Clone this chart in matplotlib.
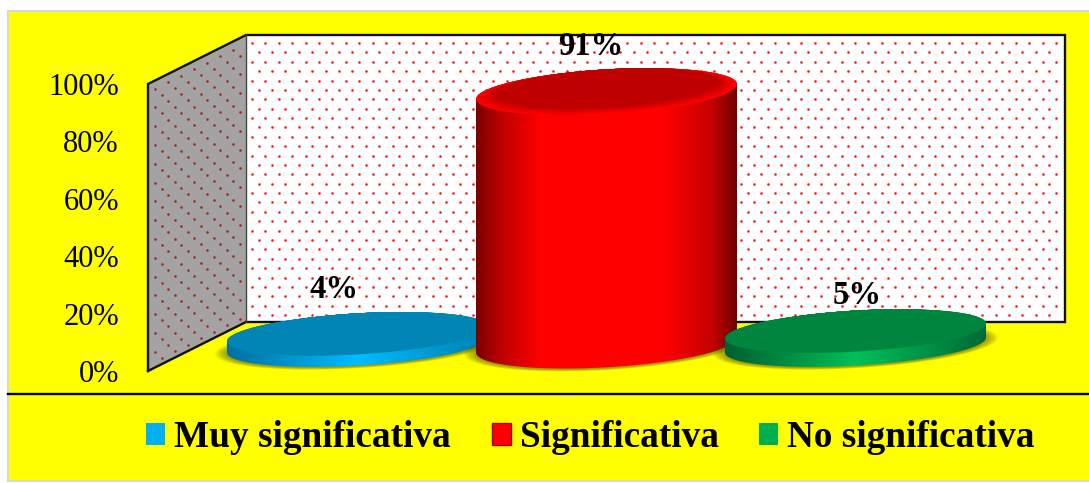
import numpy as np
import matplotlib
matplotlib.use('Agg')
import matplotlib.pyplot as plt
from matplotlib.colors import LinearSegmentedColormap, to_rgb
from matplotlib.patches import Patch, Polygon, Rectangle

categories = ['Muy significativa', 'Significativa', 'No significativa']
values = [4, 91, 5]
value_labels = ['4%', '91%', '5%']
y_ticks = [0, 20, 40, 60, 80, 100]
y_tick_labels = ['0%', '20%', '40%', '60%', '80%', '100%']

W, H = 1089, 483
DPI = 100
SERIF = 'Liberation Serif'
CAT_PX = 249

# x: one category = 249 px, y: one percent = 2.87 px on the front edge
def cx(px):
    return 1 + (np.asarray(px, dtype=float) - 606.5) / CAT_PX

def vy(py):
    return (371 - np.asarray(py, dtype=float)) / 2.87

fig = plt.figure(figsize=(W / DPI, H / DPI), dpi=DPI, facecolor='white')
ax = fig.add_axes([0, 0, 1, 1])
ax.patch.set_alpha(0)

def add_poly(xs, ys, **kw):
    p = Polygon(np.column_stack([xs, ys]), closed=True, **kw)
    ax.add_patch(p)
    return p

# yellow chart area
ax.add_patch(Rectangle((cx(8), vy(481)), cx(1095) - cx(8), vy(11) - vy(481),
                       facecolor='#ffff00', edgecolor='#d4d8dc', linewidth=1.5, zorder=0))
ax.plot(cx([8, 1089]), vy([394, 394]), color='black', linewidth=1.7, zorder=1)

# walls
wall_x, depth_x, depth_v = cx(148), 98 / CAT_PX, 49 / 2.87
side_x = [wall_x, wall_x + depth_x, wall_x + depth_x, wall_x]
side_y = [0, depth_v, 100 + depth_v, 100]
add_poly(side_x, side_y, facecolor='#a3a3a3', edgecolor='none', zorder=1)
back_x0, back_x1 = wall_x + depth_x, cx(1065)
ax.add_patch(Rectangle((back_x0, depth_v), back_x1 - back_x0, 100,
                       facecolor='white', edgecolor='none', zorder=1))

# dotted wall pattern
rows = np.arange(43, 320, 9.38)
bx, by = [], []
for i, r in enumerate(rows):
    xs = np.arange(252 + (6.7 if i % 2 else 0), 1062, 13.4)
    bx.extend(xs)
    by.extend([r] * len(xs))
ax.scatter(cx(bx), vy(by), s=3.4, color='#ff1010', linewidths=0, zorder=2)

sx, sy = [], []
for i, x in enumerate(np.arange(155, 244, 6.5)):
    top = 84 - (x - 148) * 0.5
    ys = np.arange(top + 8 + (9.4 if i % 2 else 0), top + 285, 18.8)
    sx.extend([x] * len(ys))
    sy.extend(ys)
ax.scatter(cx(sx), vy(sy), s=3.4, color='#a82020', linewidths=0, zorder=2)

ax.plot([wall_x, wall_x, wall_x + depth_x, back_x1, back_x1, wall_x + depth_x, wall_x],
        [0, 100, 100 + depth_v, 100 + depth_v, depth_v, depth_v, 0],
        color='#111111', linewidth=1.7, solid_joinstyle='miter', zorder=3)
ax.plot([back_x0, back_x0], [depth_v, 100 + depth_v], color='#444444', linewidth=1, zorder=3)

# cylinders
half_w = 130.5 / CAT_PX
half_h = 22.3 / 2.87
tilt = 15 / 2.87 / (261 / CAT_PX)
base_v = vy(345)
depth_scale = 0.97
t = np.linspace(0, 2 * np.pi, 241)

def ring(x0, v0, scale=1.0, squash=1.0):
    return (x0 + half_w * scale * np.cos(t),
            v0 + tilt * half_w * scale * np.cos(t) + half_h * squash * scale * np.sin(t))

styles = [
    {'top': '#0085b5', 'rim': '#0085b5', 'squash': 0.92,
     'side': [(0, '#0070a0'), (0.5, '#00bcff'), (1, '#0080b0')], 'key': '#00b0f0'},
    {'top': '#bf0000', 'rim': '#ff0000', 'squash': 1.0,
     'side': [(0, '#7a0000'), (0.1, '#c00000'), (0.25, '#ff0000'), (0.72, '#ff0000'),
              (0.9, '#c80000'), (1, '#700000')], 'key': '#ff0000'},
    {'top': '#00853e', 'rim': '#00853e', 'squash': 0.92,
     'side': [(0, '#005f30'), (0.5, '#00c058'), (1, '#006a35')], 'key': '#00b050'},
]

for i, (val, st) in enumerate(zip(values, styles)):
    z = 4 + i
    sq = st['squash']
    # soft shadow on the floor
    for k in np.linspace(1.09, 1.0, 8):
        xs, ys = ring(i, base_v - 0.3, k, sq)
        add_poly(xs, ys, facecolor='#4f4f00', edgecolor='none', alpha=0.09, zorder=z)

    top_v = base_v + val * depth_scale
    lower = t[120:]
    upper = t[:121]
    body_x = np.r_[i + half_w * np.cos(lower), i + half_w * np.cos(upper)]
    body_y = np.r_[base_v + tilt * half_w * np.cos(lower) + half_h * sq * np.sin(lower),
                   top_v + tilt * half_w * np.cos(upper) + half_h * sq * np.sin(upper)]
    body = add_poly(body_x, body_y, facecolor='none', edgecolor='none', zorder=z)
    cmap = LinearSegmentedColormap.from_list('side%d' % i, st['side'])
    im = ax.imshow(np.linspace(0, 1, 256)[None, :], cmap=cmap, aspect='auto',
                   extent=[i - half_w, i + half_w, body_y.min(), body_y.max()],
                   zorder=z + 0.1)
    im.set_clip_path(body)

    # top face, bright rim fading into the flat colour
    rim, flat = np.array(to_rgb(st['rim'])), np.array(to_rgb(st['top']))
    steps = np.linspace(1, 0.85, 10)
    for j, k in enumerate(steps):
        mix = j / (len(steps) - 1)
        xs, ys = ring(i, top_v + (1 - k) * half_h * sq, k, sq)
        add_poly(xs, ys, facecolor=rim + (flat - rim) * mix, edgecolor='none', zorder=z + 0.2)

# data labels
label_shift = [(-23, 44), (-16, 45), (2, 36)]
for i, (val, lab, (dx, dy)) in enumerate(zip(values, value_labels, label_shift)):
    ax.annotate(lab, (i, base_v + val * depth_scale), xytext=(dx, dy), textcoords='offset pixels',
                ha='center', va='center', family=SERIF, fontweight='bold', fontsize=23.5,
                color='black', zorder=9)

ax.set_xlim(cx(0), cx(W))
ax.set_ylim(vy(H), vy(0))

# value axis: labels only, right aligned 30 px left of the wall
ax.spines[['top', 'right', 'bottom']].set_visible(False)
ax.spines['left'].set_position(('data', wall_x))
ax.spines['left'].set_visible(False)
ax.set_xticks([])
ax.set_yticks(y_ticks)
ax.set_yticklabels(y_tick_labels, family=SERIF, fontsize=22, color='black')
ax.tick_params(axis='y', length=0, pad=21)

handles = [Patch(facecolor=s['key'], edgecolor='none' if n != 1 else '#a00000', label=c)
           for n, (c, s) in enumerate(zip(categories, styles))]
ax.legend(handles=handles, ncol=3, frameon=False, loc='lower left',
          bbox_to_anchor=(146 / W, 1 - 455 / H), bbox_transform=fig.transFigure,
          borderpad=0, borderaxespad=0, handlelength=0.51, handleheight=0.51,
          handletextpad=0.24, columnspacing=1.1,
          prop={'family': SERIF, 'weight': 'bold', 'size': 26.8})

fig.savefig('out.png', dpi=DPI, facecolor='white')
